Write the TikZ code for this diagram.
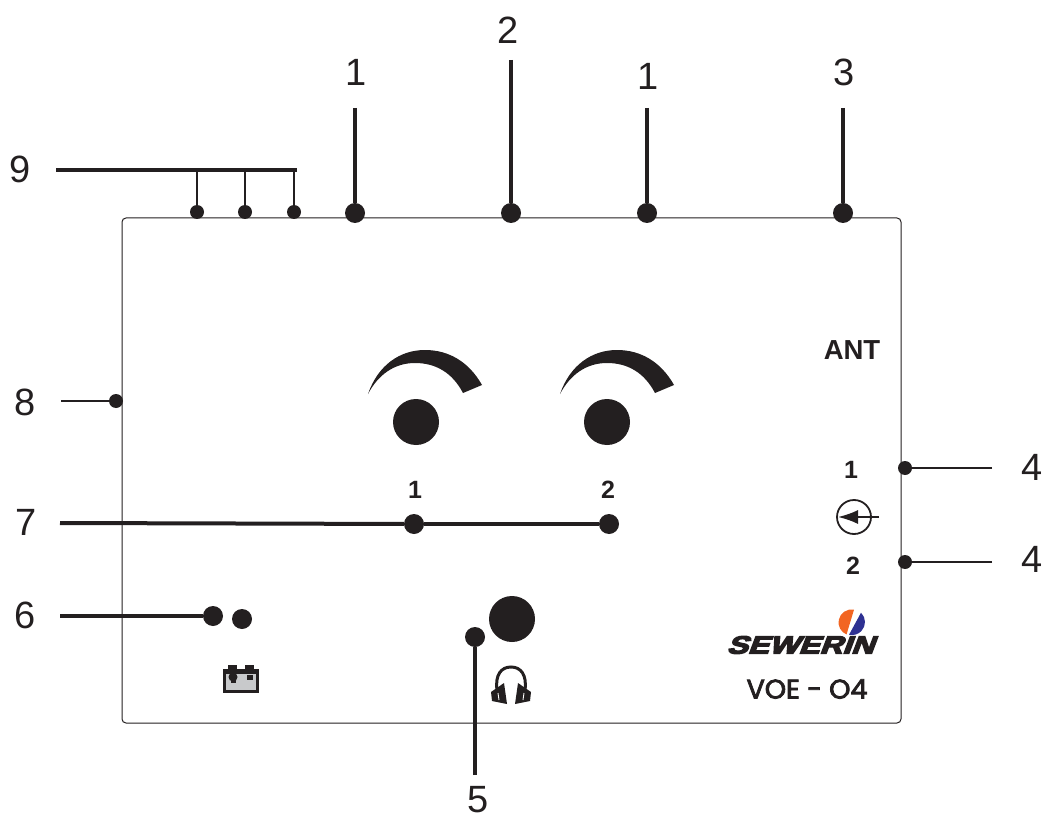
\documentclass[tikz,border=0pt]{standalone}
\usepackage{fontspec}
\setmainfont{Liberation Sans}
\newfontfamily\typefont[FakeBold=3]{Poppins}
\newfontfamily\brandfont[FakeBold=5,FakeSlant=0.3]{Liberation Sans Bold}
\usetikzlibrary{arrows.meta}
\definecolor{ink}{HTML}{231F20}
\definecolor{ballorange}{HTML}{F26522}
\definecolor{ballblue}{HTML}{2E3192}
\definecolor{cellgrey}{HTML}{C8C9CB}
\tikzset{
  num/.style={font=\fontsize{38}{40}\selectfont,text=ink,inner sep=0pt},
  tag/.style={font=\fontsize{25}{27}\selectfont\bfseries,text=ink,inner sep=0pt},
  dotbig/.style={circle,fill=ink,inner sep=0pt,minimum size=20pt},
  dotsmall/.style={circle,fill=ink,inner sep=0pt,minimum size=14pt},
  knob/.style={circle,fill=ink,inner sep=0pt,minimum size=46pt},
  lead/.style={draw=ink,line width=4pt},
  leadthin/.style={draw=ink,line width=2pt},
}
\begin{document}
\begin{tikzpicture}[x=1pt,y=-1pt]
\useasboundingbox (0,0) rectangle (1046,818);

%%%%%%%%%%%%%%%%%%%%%% HOUSING

\node[draw=ink,line width=1pt,rounded corners=4pt,minimum width=779pt,minimum height=505pt,inner sep=0pt] (housing) at (511.5,470.5) {};

%%%%%%%%%%%%%%%%%%%%%% TOP

\node[dotsmall] (p9a) at (197,212) {};
\node[dotsmall] (p9b) at (245,212) {};
\node[dotsmall] (p9c) at (294,212) {};
\node[num] (l9) at (20,169) {9};
\coordinate (s9) at (56,170);
\coordinate (e9) at (297,170);
\draw[lead] (s9) -- (e9);
\draw[leadthin] (p9a |- s9) -- (p9a);
\draw[leadthin] (p9b |- s9) -- (p9b);
\draw[leadthin] (p9c |- s9) -- (p9c);

\node[dotbig] (p1a) at (355,213) {};
\node[num] (l1a) at (356,72) {1};
\coordinate (s1a) at (355,108);
\draw[lead] (s1a) -- (p1a);

\node[dotbig] (p2) at (511,213) {};
\node[num] (l2) at (508,30) {2};
\coordinate (s2) at (511,60);
\draw[lead] (s2) -- (p2);

\node[dotbig] (p1b) at (647,213) {};
\node[num] (l1b) at (648,76) {1};
\coordinate (s1b) at (647,108);
\draw[lead] (s1b) -- (p1b);

\node[dotbig] (p3) at (843,213) {};
\node[num] (l3) at (844,72) {3};
\coordinate (s3) at (843,108);
\draw[lead] (s3) -- (p3);

%%%%%%%%%%%%%%%%%%%%%% LEFT

\node[dotsmall] (p8) at (116,401) {};
\node[num] (l8) at (25,402) {8};
\coordinate (s8) at (61,401);
\draw[leadthin] (s8) -- (p8);

\node[dotbig] (p7a) at (414,524) {};
\node[dotbig] (p7b) at (609,524) {};
\node[num] (l7) at (26,522) {7};
\coordinate (s7) at (60,523);
\draw[lead] (s7) -- (p7a);
\draw[lead] (p7a) -- (p7b);
\node[tag] (t7a) at (415,490) {1};
\node[tag] (t7b) at (608,490) {2};

\node[dotbig] (p6) at (213,616) {};
\node[dotbig] (led) at (242,619) {};
\node[num] (l6) at (25,615) {6};
\coordinate (s6) at (60,616);
\draw[lead] (s6) -- (p6);

%%%%%%%%%%%%%%%%%%%%%% KNOBS

\node[knob] (knoba) at (416,422) {};
\node[knob] (knobb) at (607,422) {};
\foreach \dx in {0,192}{
\fill[ink,xshift=\dx] (368,394) .. controls (378,365) and (400,350) .. (425,350) .. controls (449,350) and (469,362) .. (482,385) -- (463,393) .. controls (452,372) and (435,363) .. (415,363) .. controls (394,363) and (378,375) .. (368,394) -- cycle;
}

%%%%%%%%%%%%%%%%%%%%%% BOTTOM

\node[dotbig] (p5) at (475,637) {};
\node[knob] (jack) at (512,619) {};
\node[num] (l5) at (478,800) {5};
\coordinate (s5) at (475,775);
\draw[lead] (s5) -- (p5);

% battery
\fill[ink] (223,669) rectangle (259,693);
\fill[cellgrey] (226,674) rectangle (256,690);
\fill[ink] (228,665) rectangle (237,670);
\fill[ink] (245,665) rectangle (254,670);
\fill[ink] (233,677) circle (4.5);
\fill[ink] (231,672) rectangle (236,683);
\fill[ink] (247,675) rectangle (253,680);

% headphones
\draw[ink,line width=3pt] (497,690) .. controls (495,675) and (501,667) .. (511,667) .. controls (521,667) and (527,675) .. (525,690);
\fill[ink] (491,692) -- (504,683) -- (507,704) -- (492,701) -- cycle;
\fill[ink] (531,692) -- (518,683) -- (515,704) -- (530,701) -- cycle;
\draw[white,line width=0.9pt] (498,693) -- (499,700);
\draw[white,line width=0.9pt] (524,693) -- (523,700);

%%%%%%%%%%%%%%%%%%%%%% RIGHT

\node[font=\fontsize{27.5}{29}\selectfont\bfseries,text=ink,inner sep=0pt] (ant) at (852,350) {ANT};

\node[dotsmall] (p4a) at (905,468) {};
\node[num] (l4a) at (1032,467) {4};
\coordinate (s4a) at (992,468);
\draw[leadthin] (s4a) -- (p4a);

\node[dotsmall] (p4b) at (905,562) {};
\node[num] (l4b) at (1032,559) {4};
\coordinate (s4b) at (992,562);
\draw[leadthin] (s4b) -- (p4b);

\node[tag] (t4a) at (851,470) {1};
\node[tag] (t4b) at (853,566) {2};
\node[circle,draw=ink,line width=1.8pt,minimum size=34pt,inner sep=0pt] (antport) at (854,517) {};
\coordinate (s4c) at (879,517);
\coordinate (e4c) at (838,517);
\draw[ink,line width=1.8pt,-{Latex[length=20pt,width=14pt]}] (s4c) -- (e4c);

%%%%%%%%%%%%%%%%%%%%%% LOGO

\fill[ballorange] (854,609.7) arc[start angle=-79,end angle=-247.4,radius=13] -- cycle;
\fill[ballblue] (861,612.7) arc[start angle=-46,end angle=103,radius=13] -- cycle;
\node[font=\brandfont\fontsize{25}{27}\selectfont,text=ink,inner sep=0pt,xscale=1.26] (brand) at (800,645) {SEWERIN};
\node[font=\typefont\fontsize{27}{29}\selectfont,text=ink,inner sep=0pt] (model) at (807,689) {VOE - O4};

\end{tikzpicture}
\end{document}
